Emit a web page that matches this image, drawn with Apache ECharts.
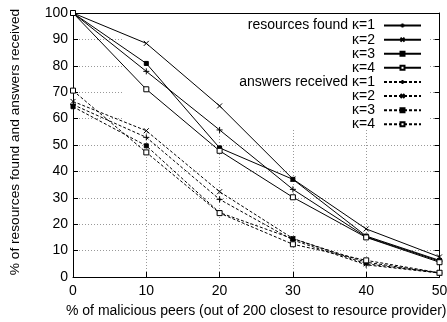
<!DOCTYPE html>
<html><head><meta charset="utf-8">
<script src="https://cdn.jsdelivr.net/npm/echarts@6/dist/echarts.min.js"></script>
<style>html,body{margin:0;padding:0;background:#fff}#c{width:447px;height:322px}</style>
</head><body><div id="c"></div>
<script>
// ---- data ----
const xValues = [0, 10, 20, 30, 40, 50];
const resFound1 = [100, 77.9, 55.7, 33.2, 15.2, 6.0];
const resFound2 = [100, 88.5, 64.8, 37.1, 18.2, 7.6];
const resFound3 = [100, 80.9, 48.9, 37.0, 15.5, 6.3];
const resFound4 = [100, 71.1, 47.8, 30.2, 15.0, 5.6];
const ansRecv1 = [65.3, 52.9, 29.4, 14.0, 4.6, 1.5];
const ansRecv2 = [66.5, 55.4, 32.3, 14.6, 5.0, 1.6];
const ansRecv3 = [64.5, 49.7, 24.4, 14.5, 5.6, 1.5];
const ansRecv4 = [70.6, 47.2, 24.2, 12.4, 6.3, 1.6];
const yTicks = [0, 10, 20, 30, 40, 50, 60, 70, 80, 90, 100];
const legendLabels = {
  rf1: 'resources found \u03ba=1', rf2: '\u03ba=2', rf3: '\u03ba=3', rf4: '\u03ba=4',
  ar1: 'answers received \u03ba=1', ar2: '\u03ba=2', ar3: '\u03ba=3', ar4: '\u03ba=4'
};
const xTitle = '% of malicious peers (out of 200 closest to resource provider)';
const yTitle = '% of resources found and answers received';

const FONT = '"Liberation Sans", Arial, Helvetica, sans-serif';
const PLUS = 'path://M0,5L10,5M5,0L5,10';
const CROSS = 'path://M0,0L10,10M10,0L0,10';
const markers = [
  {symbol: PLUS, size: 6, fill: '#000'},
  {symbol: CROSS, size: 5, fill: '#000'},
  {symbol: 'rect', size: 4, fill: '#000'},
  {symbol: 'rect', size: 5, fill: '#fff'}
];
const pairs = ys => xValues.map((x, i) => [x, ys[i]]);

function mk(name, ys, k, dashed) {
  const m = markers[k];
  return {
    name, type: 'line', data: pairs(ys),
    symbol: m.symbol, symbolSize: m.size, showSymbol: true,
    lineStyle: {color: '#000', width: 1, type: dashed ? [3, 2] : 'solid'},
    itemStyle: {color: m.fill, borderColor: '#000', borderWidth: 1},
    emphasis: {disabled: true}, animation: false
  };
}

const series = [
  mk('rf1', resFound1, 0, false), mk('rf2', resFound2, 1, false),
  mk('rf3', resFound3, 2, false), mk('rf4', resFound4, 3, false),
  mk('ar1', ansRecv1, 0, true), mk('ar2', ansRecv2, 1, true),
  mk('ar3', ansRecv3, 2, true), mk('ar4', ansRecv4, 3, true)
];

const chart = echarts.init(document.getElementById('c'), null, {renderer: 'canvas'});
const gridSplit = {show: true, lineStyle: {color: '#999', type: [1, 2], width: 1}};
chart.setOption({
  animation: false,
  backgroundColor: '#fff',
  textStyle: {fontFamily: FONT},
  grid: {left: 73, right: 7.5, top: 13, bottom: 45, containLabel: false, outerBoundsMode: 'none'},
  graphic: [
    {type: 'rect', z: 1, silent: true,
      shape: {x: 122, y: 14, width: 307, height: 116}, style: {fill: '#fff'}},
    {type: 'text', z: 5, silent: true, x: 15, y: 142, rotation: Math.PI / 2,
      style: {text: yTitle, fill: '#000', font: '13.7px ' + FONT, textAlign: 'center', textVerticalAlign: 'middle'}}
  ],
  legend: {
    orient: 'vertical', right: 25, top: 18.5, align: 'right', padding: 0,
    itemWidth: 37, itemHeight: 5, itemGap: 0,
    data: Object.keys(legendLabels),
    formatter: n => legendLabels[n],
    textStyle: {fontSize: 14, color: '#000', fontFamily: FONT, padding: [0, 4, 0, 0], lineHeight: 14.1},
    selectedMode: false
  },
  xAxis: [{
    type: 'value', min: 0, max: 50, interval: 10,
    name: xTitle,
    nameLocation: 'middle', nameGap: 27,
    nameTextStyle: {fontSize: 14, color: '#000', fontFamily: FONT},
    axisLine: {show: true, lineStyle: {color: '#000', width: 1}},
    axisTick: {show: true, inside: true, length: 5, lineStyle: {color: '#000'}},
    axisLabel: {fontSize: 14, color: '#000', margin: 7, fontFamily: FONT},
    splitLine: gridSplit
  }, {
    type: 'value', min: 0, max: 50, interval: 10, position: 'top',
    axisLine: {show: true, onZero: false, lineStyle: {color: '#000', width: 1}},
    axisTick: {show: true, inside: true, length: 5, lineStyle: {color: '#000'}},
    axisLabel: {show: false}, splitLine: {show: false}
  }],
  yAxis: [{
    type: 'value', min: 0, max: 100, interval: 10,
    axisLine: {show: true, lineStyle: {color: '#000', width: 1}},
    axisTick: {show: true, inside: true, length: 5, lineStyle: {color: '#000'}},
    axisLabel: {fontSize: 14, color: '#000', margin: 5, fontFamily: FONT,
      formatter: v => yTicks.includes(v) ? String(v) : ''},
    splitLine: gridSplit
  }, {
    type: 'value', min: 0, max: 100, interval: 10, position: 'right',
    axisLine: {show: true, onZero: false, lineStyle: {color: '#000', width: 1}},
    axisTick: {show: true, inside: true, length: 5, lineStyle: {color: '#000'}},
    axisLabel: {show: false}, splitLine: {show: false}
  }],
  series
});
</script></body></html>
